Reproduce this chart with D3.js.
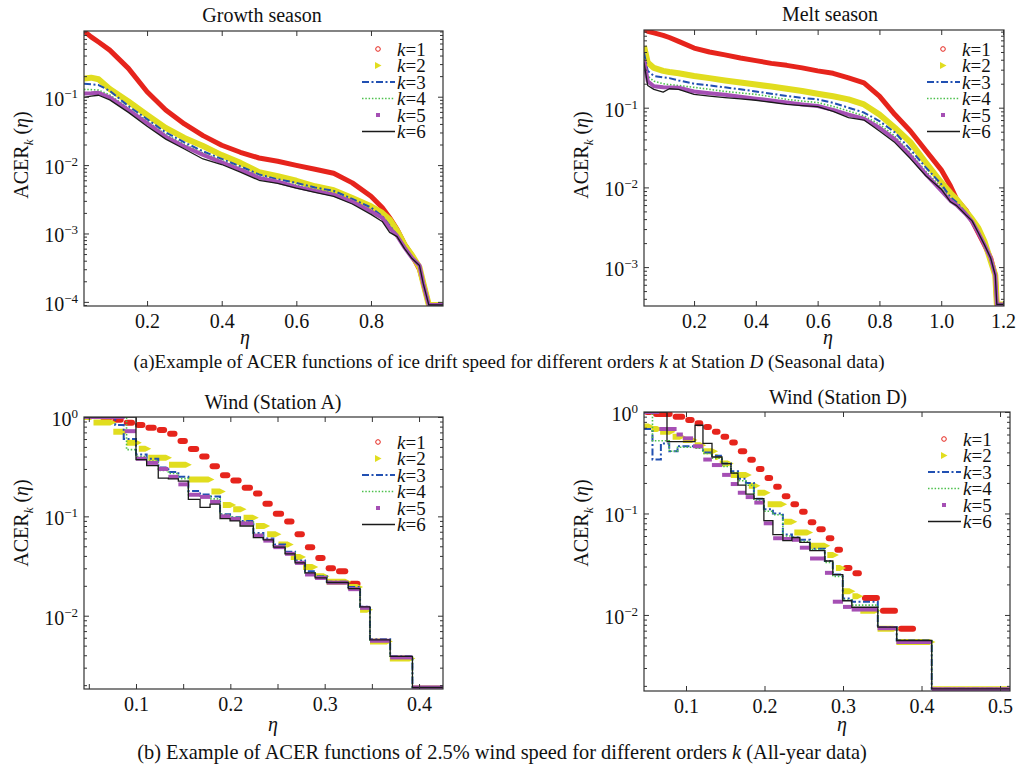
<!DOCTYPE html>
<html>
<head>
<meta charset="utf-8">
<script src="https://cdn.jsdelivr.net/npm/d3@7/dist/d3.min.js"></script>
<style>
  html, body { margin: 0; padding: 0; background: #fff; }
  svg { display: block; font-family: "Liberation Serif", "Times New Roman", serif; }
</style>
</head>
<body>
<div id="chart"></div>
<script>
// ---------- data ----------
// (a) growth season, ice drift, station D
const growth_eta = [0.031, 0.05, 0.07, 0.1, 0.15, 0.2, 0.25, 0.3, 0.35, 0.4, 0.45, 0.5, 0.55, 0.6, 0.65, 0.7, 0.75, 0.8, 0.83, 0.85, 0.87, 0.89, 0.91, 0.93, 0.94, 0.955, 0.993];
const growth_k1 = [0.91, 0.75, 0.63, 0.48, 0.26, 0.118, 0.064, 0.040, 0.027, 0.0195, 0.0154, 0.0127, 0.0114, 0.0099, 0.0087, 0.0076, 0.0055, 0.0035, 0.0024, 0.0017, 0.00115, 7e-4, 4.8e-4, 3.0e-4, 1.9e-4, 9e-5, 9e-5];
const growth_k2 = [0.185, 0.19, 0.18, 0.13, 0.085, 0.054, 0.035, 0.025, 0.019, 0.014, 0.0108, 0.0079, 0.0069, 0.0059, 0.0049, 0.0043, 0.0033, 0.0025, 0.002, 0.0016, 0.0011, 6.8e-4, 4.8e-4, 3.2e-4, 1.9e-4, 9e-5, 9e-5];
const growth_k3 = [0.155, 0.152, 0.148, 0.122, 0.073, 0.047, 0.030, 0.0215, 0.0159, 0.0123, 0.0096, 0.0073, 0.0062, 0.0055, 0.0047, 0.0042, 0.0032, 0.0024, 0.0018, 0.0013, 9.5e-4, 6.3e-4, 4.5e-4, 3.4e-4, 1.86e-4, 9e-5, 9e-5];
const growth_k4 = [0.128, 0.127, 0.125, 0.106, 0.068, 0.044, 0.028, 0.020, 0.015, 0.0117, 0.0091, 0.0069, 0.0059, 0.0051, 0.0044, 0.0039, 0.0030, 0.0022, 0.0017, 0.0013, 9.3e-4, 6.3e-4, 4.5e-4, 3.4e-4, 1.86e-4, 9e-5, 9e-5];
const growth_k5 = [0.111, 0.112, 0.114, 0.098, 0.064, 0.041, 0.026, 0.0187, 0.0141, 0.011, 0.0086, 0.0065, 0.0057, 0.0048, 0.0042, 0.0037, 0.0029, 0.0021, 0.0017, 0.0012, 9.2e-4, 6.2e-4, 4.4e-4, 3.4e-4, 1.86e-4, 9e-5, 9e-5];
const growth_k6 = [0.098, 0.102, 0.105, 0.09, 0.059, 0.037, 0.024, 0.0172, 0.0123, 0.0102, 0.0079, 0.006, 0.0054, 0.0046, 0.004, 0.0035, 0.0027, 0.0019, 0.0015, 0.00104, 9e-4, 6e-4, 4.3e-4, 3.4e-4, 1.86e-4, 9e-5, 9e-5];

// (a) melt season
const melt_eta = [0.038, 0.05, 0.07, 0.1, 0.12, 0.15, 0.2, 0.25, 0.3, 0.35, 0.4, 0.45, 0.5, 0.55, 0.6, 0.65, 0.7, 0.75, 0.8, 0.85, 0.9, 0.95, 1.0, 1.03, 1.05, 1.08, 1.1, 1.12, 1.14, 1.16, 1.175, 1.18, 1.2035];
const melt_k1 = [0.955, 0.91, 0.87, 0.81, 0.76, 0.68, 0.56, 0.50, 0.46, 0.42, 0.39, 0.36, 0.34, 0.316, 0.29, 0.27, 0.237, 0.205, 0.14, 0.082, 0.051, 0.029, 0.0166, 0.0104, 0.0071, 0.0052, 0.0038, 0.0027, 0.0019, 0.0013, 7.9e-4, 3.4e-4, 3.4e-4];
const melt_k2 = [0.59, 0.37, 0.316, 0.29, 0.28, 0.27, 0.25, 0.235, 0.22, 0.207, 0.195, 0.184, 0.173, 0.162, 0.15, 0.139, 0.127, 0.11, 0.082, 0.056, 0.037, 0.0205, 0.0116, 0.0085, 0.0071, 0.005, 0.004, 0.0031, 0.0021, 0.0012, 7.9e-4, 3.4e-4, 3.4e-4];
const melt_k3 = [0.49, 0.29, 0.25, 0.24, 0.235, 0.22, 0.2, 0.19, 0.18, 0.17, 0.16, 0.15, 0.14, 0.133, 0.127, 0.115, 0.1, 0.087, 0.068, 0.049, 0.030, 0.0178, 0.011, 0.0075, 0.0065, 0.0048, 0.0038, 0.0027, 0.0019, 0.0013, 7.9e-4, 3.4e-4, 3.4e-4];
const melt_k4 = [0.42, 0.25, 0.215, 0.2, 0.195, 0.19, 0.18, 0.17, 0.16, 0.153, 0.147, 0.137, 0.127, 0.121, 0.116, 0.104, 0.091, 0.079, 0.062, 0.044, 0.027, 0.016, 0.01, 0.0072, 0.0062, 0.0047, 0.0038, 0.0027, 0.0019, 0.0013, 7.9e-4, 3.4e-4, 3.4e-4];
const melt_k5 = [0.40, 0.215, 0.186, 0.18, 0.179, 0.178, 0.16, 0.152, 0.145, 0.137, 0.13, 0.123, 0.116, 0.11, 0.105, 0.094, 0.082, 0.073, 0.056, 0.040, 0.025, 0.0147, 0.0091, 0.0068, 0.006, 0.0046, 0.0037, 0.0027, 0.0019, 0.0013, 7.9e-4, 3.4e-4, 3.4e-4];
const melt_k6 = [0.37, 0.19, 0.17, 0.157, 0.173, 0.17, 0.147, 0.14, 0.134, 0.129, 0.124, 0.117, 0.11, 0.106, 0.103, 0.09, 0.075, 0.07, 0.051, 0.0365, 0.023, 0.014, 0.0095, 0.0066, 0.0059, 0.0045, 0.0038, 0.0027, 0.0019, 0.0013, 7.9e-4, 3.4e-4, 3.4e-4];

// (b) wind, station A: step functions, edges (n+1) and levels (n)
const windA_k1_x = [0.062, 0.075, 0.087, 0.099, 0.11, 0.122, 0.133, 0.144, 0.155, 0.167, 0.178, 0.189, 0.2, 0.212, 0.224, 0.234, 0.245, 0.257, 0.268, 0.279, 0.29, 0.301, 0.312, 0.325, 0.338];
const windA_k1_y = [0.99, 0.94, 0.877, 0.83, 0.78, 0.74, 0.68, 0.575, 0.475, 0.40, 0.32, 0.26, 0.23, 0.194, 0.17, 0.134, 0.106, 0.089, 0.066, 0.049, 0.038, 0.030, 0.028, 0.021];
const windA_k2_x = [0.045, 0.055, 0.076, 0.09, 0.103, 0.113, 0.135, 0.156, 0.18, 0.192, 0.203, 0.214, 0.227, 0.239, 0.251, 0.264, 0.277, 0.29, 0.302, 0.325, 0.3375, 0.348, 0.369, 0.393, 0.4254];
const windA_k2_y = [1.0, 0.88, 0.71, 0.55, 0.48, 0.39, 0.33, 0.235, 0.178, 0.13, 0.118, 0.097, 0.08, 0.066, 0.052, 0.039, 0.031, 0.025, 0.022, 0.0195, 0.0115, 0.0055, 0.0037, 0.00185];
const windA_k3_x = [0.045, 0.078, 0.087, 0.1, 0.1113, 0.1236, 0.1343, 0.1449, 0.1555, 0.1679, 0.1785, 0.1891, 0.1997, 0.2103, 0.2244, 0.235, 0.2456, 0.258, 0.2686, 0.2792, 0.2898, 0.3022, 0.325, 0.3375, 0.348, 0.3694, 0.393, 0.4254];
const windA_k3_y = [1.0, 0.83, 0.6, 0.42, 0.38, 0.31, 0.28, 0.25, 0.18, 0.166, 0.158, 0.105, 0.098, 0.09, 0.068, 0.06, 0.052, 0.044, 0.036, 0.028, 0.025, 0.022, 0.0195, 0.0123, 0.0058, 0.0039, 0.0019];
const windA_k4_x = [0.045, 0.09, 0.1, 0.1113, 0.1236, 0.1343, 0.1449, 0.1555, 0.1679, 0.1785, 0.1891, 0.1997, 0.2103, 0.2244, 0.235, 0.2456, 0.258, 0.2686, 0.2792, 0.2898, 0.3022, 0.325, 0.3375, 0.348, 0.3694, 0.393, 0.4254];
const windA_k4_y = [1.0, 0.47, 0.4, 0.36, 0.29, 0.27, 0.24, 0.165, 0.16, 0.15, 0.104, 0.098, 0.088, 0.066, 0.058, 0.05, 0.043, 0.035, 0.027, 0.025, 0.022, 0.019, 0.012, 0.0057, 0.0038, 0.0019];
const windA_k5_x = [0.045, 0.088, 0.1, 0.1113, 0.1236, 0.1343, 0.1449, 0.1555, 0.1679, 0.1785, 0.1891, 0.1997, 0.2103, 0.2244, 0.235, 0.2456, 0.258, 0.2686, 0.2792, 0.2898, 0.3022, 0.325, 0.3375, 0.348, 0.3694, 0.393, 0.4254];
const windA_k5_y = [1.0, 0.72, 0.38, 0.345, 0.30, 0.25, 0.21, 0.165, 0.157, 0.14, 0.1, 0.094, 0.085, 0.064, 0.057, 0.049, 0.042, 0.034, 0.026, 0.024, 0.0215, 0.0185, 0.012, 0.0056, 0.0038, 0.0019];
const windA_k6_x = [0.045, 0.1, 0.1113, 0.1236, 0.1343, 0.1449, 0.1555, 0.1679, 0.1785, 0.1891, 0.1997, 0.2103, 0.2244, 0.235, 0.2456, 0.258, 0.2686, 0.2792, 0.2898, 0.3022, 0.325, 0.3375, 0.348, 0.3694, 0.393, 0.4254];
const windA_k6_y = [1.0, 0.372, 0.324, 0.243, 0.238, 0.226, 0.148, 0.123, 0.133, 0.095, 0.09, 0.08, 0.061, 0.058, 0.049, 0.042, 0.034, 0.027, 0.024, 0.0216, 0.0187, 0.0123, 0.0057, 0.0039, 0.0019];

// (b) wind, station D
const windD_k1_x = [0.0466, 0.058, 0.083, 0.099, 0.111, 0.122, 0.133, 0.144, 0.155, 0.166, 0.178, 0.189, 0.2, 0.211, 0.222, 0.233, 0.244, 0.255, 0.266, 0.278, 0.289, 0.3, 0.312, 0.324, 0.347, 0.37, 0.393];
const windD_k1_y = [1.0, 0.955, 0.90, 0.835, 0.775, 0.71, 0.64, 0.57, 0.50, 0.41, 0.338, 0.274, 0.224, 0.183, 0.148, 0.123, 0.104, 0.082, 0.07, 0.057, 0.044, 0.029, 0.0257, 0.0147, 0.011, 0.0073];
const windD_k2_x = [0.0466, 0.056, 0.067, 0.083, 0.096, 0.111, 0.122, 0.137, 0.143, 0.157, 0.18, 0.191, 0.204, 0.225, 0.238, 0.258, 0.28, 0.291, 0.3, 0.312, 0.322, 0.344, 0.368, 0.414, 0.5127];
const windD_k2_y = [0.72, 0.68, 0.64, 0.57, 0.53, 0.47, 0.41, 0.36, 0.31, 0.24, 0.188, 0.16, 0.123, 0.083, 0.065, 0.048, 0.039, 0.029, 0.0171, 0.0153, 0.011, 0.0073, 0.0054, 0.00185];
const windD_k3_x = [0.0466, 0.0573, 0.068, 0.0786, 0.0892, 0.1115, 0.1216, 0.1331, 0.1458, 0.1573, 0.1662, 0.1763, 0.1865, 0.1992, 0.2107, 0.2234, 0.2349, 0.245, 0.2578, 0.2768, 0.287, 0.2997, 0.3112, 0.3443, 0.3684, 0.413, 0.5127];
const windD_k3_y = [0.68, 0.34, 0.49, 0.41, 0.46, 0.45, 0.40, 0.37, 0.31, 0.26, 0.22, 0.20, 0.14, 0.11, 0.10, 0.062, 0.058, 0.055, 0.045, 0.034, 0.025, 0.0145, 0.0135, 0.0076, 0.0056, 0.00187];
const windD_k4_x = [0.0466, 0.0573, 0.0786, 0.0892, 0.1115, 0.1216, 0.1331, 0.1458, 0.1573, 0.1662, 0.1763, 0.1865, 0.1992, 0.2107, 0.2234, 0.2349, 0.245, 0.2578, 0.2768, 0.287, 0.2997, 0.3112, 0.3443, 0.3684, 0.413, 0.5127];
const windD_k4_y = [1.0, 0.52, 0.41, 0.45, 0.44, 0.39, 0.35, 0.29, 0.25, 0.21, 0.19, 0.135, 0.105, 0.097, 0.06, 0.056, 0.053, 0.044, 0.033, 0.024, 0.014, 0.0125, 0.0075, 0.0055, 0.00187];
const windD_k5_x = [0.0466, 0.066, 0.088, 0.096, 0.109, 0.122, 0.133, 0.146, 0.157, 0.166, 0.176, 0.187, 0.199, 0.211, 0.223, 0.235, 0.245, 0.258, 0.277, 0.287, 0.30, 0.311, 0.344, 0.368, 0.413, 0.5127];
const windD_k5_y = [1.0, 0.68, 0.6, 0.55, 0.46, 0.34, 0.30, 0.24, 0.195, 0.16, 0.145, 0.128, 0.08, 0.057, 0.056, 0.055, 0.046, 0.036, 0.026, 0.0135, 0.012, 0.0113, 0.0074, 0.0054, 0.00185];
const windD_k6_x = [0.0466, 0.0758, 0.1115, 0.1216, 0.1331, 0.1458, 0.1573, 0.1662, 0.1763, 0.1865, 0.1992, 0.2107, 0.2234, 0.2349, 0.245, 0.2578, 0.2768, 0.287, 0.2997, 0.3112, 0.3443, 0.3684, 0.413, 0.5127];
const windD_k6_y = [1.0, 0.51, 0.74, 0.49, 0.36, 0.31, 0.25, 0.19, 0.155, 0.14, 0.085, 0.062, 0.054, 0.058, 0.052, 0.043, 0.034, 0.025, 0.0138, 0.0119, 0.0076, 0.0056, 0.00187];

// ticks
const growth_xticks = [0.2, 0.4, 0.6, 0.8];
const melt_xticks = [0.2, 0.4, 0.6, 0.8, 1.0, 1.2];
const windA_xticks = [0.05, 0.1, 0.15, 0.2, 0.25, 0.3, 0.35, 0.4];
const windA_xlabels = [0.1, 0.2, 0.3, 0.4];
const windD_xticks = [0.1, 0.2, 0.3, 0.4, 0.5];
const growth_yticks = [1e-4, 1e-3, 1e-2, 1e-1];
const melt_yticks = [1e-3, 1e-2, 1e-1];
const wind_yticks = [1e-2, 1e-1, 1];
const orders = ["1", "2", "3", "4", "5", "6"];

(function () {
  const W = 1018, H = 771;
  const svg = d3.select("#chart").append("svg").attr("width", W).attr("height", H);
  const SERIF = "Liberation Serif, Times New Roman, serif";

  // series styles, k=1..6 (MATLAB-ish)
  const STY = [
    { color: "#e6241c", kind: "marker", width: 5, mark: "circle" },
    { color: "#e1dd1f", kind: "marker", width: 6, mark: "tri" },
    { color: "#2150b2", kind: "line", width: 2, dash: "7,2.5,2,2.5" },
    { color: "#4cc04c", kind: "line", width: 1.6, dash: "1.5,1.8" },
    { color: "#a54fb4", kind: "marker", width: 4, mark: "square" },
    { color: "#1a1a1a", kind: "line", width: 1.3, dash: null },
  ];
  const FS = 20;
  const fmt = d3.format(".1f");

  function panel(cfg) {
    const [L, T, R, B] = cfg.box;
    const x = d3.scaleLinear().domain(cfg.xDomain).range([L, R]);
    const y = d3.scaleLog().domain(cfg.yDomain).range([B, T]);
    const g = svg.append("g");

    svg.append("clipPath").attr("id", "clip-" + cfg.id)
      .append("rect").attr("x", L).attr("y", T).attr("width", R - L).attr("height", B - T);
    const plot = g.append("g").attr("clip-path", `url(#clip-${cfg.id})`);

    if (cfg.smooth) {
      cfg.series.forEach((vals, i) => {
        const s = STY[i];
        const pts = cfg.eta.map((e, j) => [e, vals[j]]);
        plot.append("path")
          .attr("d", d3.line().x(d => x(d[0])).y(d => y(d[1]))(pts))
          .attr("fill", "none")
          .attr("stroke", s.color)
          .attr("stroke-width", s.width)
          .attr("stroke-linejoin", "round")
          .attr("stroke-dasharray", s.dash || null);
      });
    } else {
      cfg.series.forEach(([ex, ev], i) => {
        const s = STY[i];
        if (s.kind === "line") {
          const pts = ev.map((v, j) => [ex[j], v]);
          pts.push([ex[ex.length - 1], ev[ev.length - 1]]);
          plot.append("path")
            .attr("d", d3.line().curve(d3.curveStepAfter).x(d => x(d[0])).y(d => y(d[1]))(pts))
            .attr("fill", "none")
            .attr("stroke", s.color)
            .attr("stroke-width", s.width)
            .attr("stroke-dasharray", s.dash || null);
        } else {
          // dense markers on each plateau read as a thick dash
          const segs = ev.map((v, j) => ({ x0: ex[j], x1: ex[j + 1], v }));
          segs.forEach(d => {
            const a = x(d.x0), b = x(d.x1), yy = y(d.v);
            if (s.mark === "tri") {
              const h = s.width / 2;
              plot.append("path")
                .attr("d", `M${a},${yy - h}L${b - 3},${yy - h}L${b + 3},${yy}L${b - 3},${yy + h}L${a},${yy + h}Z`)
                .attr("fill", s.color);
            } else {
              const red = s.mark === "circle";
              plot.append("line")
                .attr("x1", a + (red ? 3 : 0)).attr("x2", b - (red ? 3 : 0))
                .attr("y1", yy).attr("y2", yy)
                .attr("stroke", s.color)
                .attr("stroke-width", red ? 6 : s.width)
                .attr("stroke-linecap", red ? "round" : "butt");
            }
          });
        }
      });
    }

    // axes (box on, ticks inward)
    const axColor = "#333";
    const labelled = cfg.xLabels || cfg.xTicks;
    const bottom = g.append("g").attr("transform", `translate(0,${B})`)
      .call(d3.axisBottom(x).tickValues(cfg.xTicks).tickSize(-5).tickPadding(8)
        .tickFormat(v => labelled.some(l => Math.abs(l - v) < 1e-9) ? fmt(v) : ""));
    g.append("g").attr("transform", `translate(0,${T})`)
      .call(d3.axisTop(x).tickValues(cfg.xTicks).tickSize(-5).tickFormat(""));

    // minor log ticks
    const [y0, y1] = cfg.yDomain;
    const minors = [];
    for (let e = Math.floor(Math.log10(y0)); e <= Math.ceil(Math.log10(y1)); e++) {
      for (let m = 2; m <= 9; m++) {
        const v = m * Math.pow(10, e);
        if (v >= y0 && v <= y1) minors.push(v);
      }
    }
    const left = g.append("g").attr("transform", `translate(${L},0)`)
      .call(d3.axisLeft(y).tickValues(cfg.yTicks).tickSize(-5).tickPadding(6).tickFormat(""));
    g.append("g").attr("transform", `translate(${L},0)`)
      .call(d3.axisLeft(y).tickValues(minors).tickSize(-3).tickFormat(""));
    g.append("g").attr("transform", `translate(${R},0)`)
      .call(d3.axisRight(y).tickValues(cfg.yTicks).tickSize(-5).tickFormat(""));
    g.append("g").attr("transform", `translate(${R},0)`)
      .call(d3.axisRight(y).tickValues(minors).tickSize(-3).tickFormat(""));

    g.selectAll(".domain").remove();
    g.selectAll("g").attr("font-family", SERIF);
    g.selectAll(".tick line").attr("stroke", axColor).attr("stroke-width", 1);
    bottom.selectAll("text").attr("font-size", FS).attr("fill", "#111");

    // y tick labels as 10^n
    left.selectAll(".tick text").each(function (v) {
      const t = d3.select(this).text(null)
        .attr("font-size", FS).attr("fill", "#111")
        .attr("dy", "0.42em");
      const ex = Math.round(Math.log10(v));
      t.append("tspan").text("10");
      t.append("tspan").attr("dy", -8).attr("font-size", 13).text(ex === 0 ? "0" : "\u2212" + Math.abs(ex));
    });

    g.append("rect").attr("x", L).attr("y", T).attr("width", R - L).attr("height", B - T)
      .attr("fill", "none").attr("stroke", axColor).attr("stroke-width", 1.2);

    // title, axis labels
    g.append("text").attr("x", cfg.title[1]).attr("y", cfg.title[2])
      .attr("text-anchor", "middle").attr("font-size", FS).attr("fill", "#111").text(cfg.title[0]);

    g.append("text").attr("x", cfg.xlab[0]).attr("y", cfg.xlab[1])
      .attr("text-anchor", "middle").attr("font-size", FS).attr("font-style", "italic")
      .attr("fill", "#111").text("\u03b7");

    const yl = g.append("text")
      .attr("transform", `translate(${cfg.ylab[0]},${cfg.ylab[1]}) rotate(-90)`)
      .attr("text-anchor", "middle").attr("font-size", FS).attr("fill", "#111");
    yl.append("tspan").text("ACER");
    yl.append("tspan").attr("font-size", 13).attr("font-style", "italic").attr("dy", 5).text("k");
    yl.append("tspan").attr("dy", -5).text(" (");
    yl.append("tspan").attr("font-style", "italic").text("\u03b7");
    yl.append("tspan").text(")");

    // legend
    const lx = cfg.legend[0], ly = cfg.legend[1], step = 16.5;
    orders.forEach((k, i) => {
      const s = STY[i];
      const cy = ly + i * step;
      const mx = lx - 19;
      if (s.kind === "line") {
        g.append("line").attr("x1", lx - 35).attr("x2", lx - 2).attr("y1", cy).attr("y2", cy)
          .attr("stroke", s.color).attr("stroke-width", s.width).attr("stroke-dasharray", s.dash || null);
      } else if (s.mark === "circle") {
        g.append("circle").attr("cx", mx).attr("cy", cy).attr("r", 2.3)
          .attr("fill", "none").attr("stroke", s.color).attr("stroke-width", 1);
      } else if (s.mark === "tri") {
        g.append("path").attr("d", `M${mx - 3},${cy - 3.5}L${mx + 3.5},${cy}L${mx - 3},${cy + 3.5}Z`)
          .attr("fill", s.color);
      } else {
        g.append("rect").attr("x", mx - 2).attr("y", cy - 2).attr("width", 4).attr("height", 4)
          .attr("fill", s.color);
      }
      const t = g.append("text").attr("x", lx).attr("y", cy + 6.5).attr("font-size", 19).attr("fill", "#111");
      t.append("tspan").attr("font-style", "italic").text("k");
      t.append("tspan").text("=" + k);
    });
  }

  panel({
    id: "growth", box: [84, 31, 443, 306], xDomain: [0.031, 0.993], yDomain: [8.7e-5, 0.914],
    xTicks: growth_xticks, yTicks: growth_yticks, smooth: true, eta: growth_eta,
    series: [growth_k1, growth_k2, growth_k3, growth_k4, growth_k5, growth_k6],
    title: ["Growth season", 262, 22], xlab: [245, 344], ylab: [28, 155], legend: [397, 49],
  });
  panel({
    id: "melt", box: [644, 30, 1004, 306], xDomain: [0.038, 1.2032], yDomain: [3.25e-4, 0.944],
    xTicks: melt_xticks, yTicks: melt_yticks, smooth: true, eta: melt_eta,
    series: [melt_k1, melt_k2, melt_k3, melt_k4, melt_k5, melt_k6],
    title: ["Melt season", 830, 21], xlab: [828, 344], ylab: [588, 155], legend: [962, 49],
  });
  panel({
    id: "windA", box: [84, 417, 443, 689], xDomain: [0.0449, 0.4254], yDomain: [1.83e-3, 1],
    xTicks: windA_xticks, xLabels: windA_xlabels, yTicks: wind_yticks, smooth: false,
    series: [[windA_k1_x, windA_k1_y], [windA_k2_x, windA_k2_y], [windA_k3_x, windA_k3_y],
             [windA_k4_x, windA_k4_y], [windA_k5_x, windA_k5_y], [windA_k6_x, windA_k6_y]],
    title: ["Wind (Station A)", 273, 409], xlab: [273, 731], ylab: [28, 523], legend: [397, 442],
  });
  panel({
    id: "windD", box: [644, 412, 1010, 691], xDomain: [0.0465, 0.5127], yDomain: [1.78e-3, 1],
    xTicks: windD_xticks, yTicks: wind_yticks, smooth: false,
    series: [[windD_k1_x, windD_k1_y], [windD_k2_x, windD_k2_y], [windD_k3_x, windD_k3_y],
             [windD_k4_x, windD_k4_y], [windD_k5_x, windD_k5_y], [windD_k6_x, windD_k6_y]],
    title: ["Wind (Station D)", 838, 404], xlab: [842, 731], ylab: [588, 523], legend: [963, 439],
  });

  // captions
  const capA = svg.append("text").attr("x", 509).attr("y", 368).attr("text-anchor", "middle")
    .attr("font-size", 19).attr("fill", "#111");
  capA.append("tspan").text("(a)Example of ACER functions of ice drift speed for different orders ");
  capA.append("tspan").attr("font-style", "italic").text("k");
  capA.append("tspan").text(" at Station ");
  capA.append("tspan").attr("font-style", "italic").text("D");
  capA.append("tspan").text(" (Seasonal data)");

  const capB = svg.append("text").attr("x", 502).attr("y", 759).attr("text-anchor", "middle")
    .attr("font-size", 20.4).attr("fill", "#111");
  capB.append("tspan").text("(b) Example of ACER functions of 2.5% wind speed for different orders ");
  capB.append("tspan").attr("font-style", "italic").text("k");
  capB.append("tspan").text(" (All-year data)");
})();
</script>
</body>
</html>
